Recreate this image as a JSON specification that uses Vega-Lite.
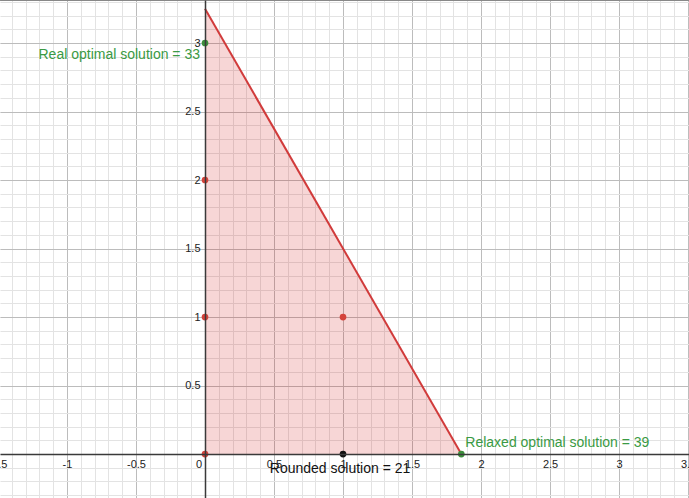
{
  "$schema": "https://vega.github.io/schema/vega-lite/v6.json",
  "width": 689,
  "height": 498,
  "padding": 0,
  "autosize": "none",
  "config": {"view": {"stroke": null}, "font": "Liberation Sans"},
  "datasets": {
    "region": [{"x": 0, "y": 3.25}, {"x": 1.857143, "y": 0}],
    "pts": [
      {"x": 0, "y": 0, "kind": "feasible"},
      {"x": 0, "y": 1, "kind": "feasible"},
      {"x": 0, "y": 2, "kind": "feasible"},
      {"x": 1, "y": 1, "kind": "feasible"},
      {"x": 0, "y": 3, "kind": "optimal"},
      {"x": 1.857143, "y": 0, "kind": "optimal"},
      {"x": 1, "y": 0, "kind": "rounded"}
    ],
    "notes": [
      {"x": 0, "y": 3, "id": "real", "label": "Real optimal solution = 33"},
      {"x": 1.857143, "y": 0, "id": "relaxed", "label": "Relaxed optimal solution = 39"},
      {"x": 1, "y": 0, "id": "rounded", "label": "Rounded solution = 21"},
      {"x": 0, "y": 0, "id": "origin", "label": "0"},
      {"x": -1.5, "y": 0, "id": "edge", "label": "-1.5"}
    ]
  },
  "layer": [
    {
      "data": {"name": "region"},
      "mark": {"type": "area", "color": "#cc0000", "opacity": 0.16},
      "encoding": {
        "x": {"field": "x", "type": "quantitative",
          "scale": {"domain": [-1.4855, 3.507], "nice": false, "zero": false},
          "axis": {"orient": "bottom", "title": null, "labels": false, "ticks": false, "domain": false, "grid": true, "gridColor": "#e3e3e3", "gridWidth": 1,
            "values": [-1.4,-1.3,-1.2,-1.1,-1.0,-0.9,-0.8,-0.7,-0.6,-0.5,-0.4,-0.3,-0.2,-0.1,0,0.1,0.2,0.3,0.4,0.5,0.6,0.7,0.8,0.9,1.0,1.1,1.2,1.3,1.4,1.5,1.6,1.7,1.8,1.9,2.0,2.1,2.2,2.3,2.4,2.5,2.6,2.7,2.8,2.9,3.0,3.1,3.2,3.3,3.4,3.5]}},
        "y": {"field": "y", "type": "quantitative",
          "scale": {"domain": [-0.321, 3.314], "nice": false, "zero": false},
          "axis": {"orient": "left", "title": null, "labels": false, "ticks": false, "domain": false, "grid": true, "gridColor": "#e3e3e3", "gridWidth": 1,
            "values": [-0.3,-0.2,-0.1,0,0.1,0.2,0.3,0.4,0.5,0.6,0.7,0.8,0.9,1.0,1.1,1.2,1.3,1.4,1.5,1.6,1.7,1.8,1.9,2.0,2.1,2.2,2.3,2.4,2.5,2.6,2.7,2.8,2.9,3.0,3.1,3.2,3.3]}},
        "y2": {"datum": 0}
      }
    },
    {
      "data": {"name": "region"},
      "mark": {"type": "line", "color": "#d13b3b", "strokeWidth": 2},
      "encoding": {
        "x": {"field": "x", "type": "quantitative",
          "scale": {"domain": [-1.4855, 3.507], "nice": false, "zero": false},
          "axis": {"orient": "bottom", "title": null, "labels": false, "ticks": false, "domain": false, "grid": true, "gridColor": "#bcbcbc", "gridWidth": 1,
            "values": [-1.5,-1,-0.5,0.5,1,1.5,2,2.5,3,3.5]}},
        "y": {"field": "y", "type": "quantitative",
          "scale": {"domain": [-0.321, 3.314], "nice": false, "zero": false},
          "axis": {"orient": "left", "title": null, "labels": false, "ticks": false, "domain": false, "grid": true, "gridColor": "#bcbcbc", "gridWidth": 1,
            "values": [0.5,1,1.5,2,2.5,3]}}
      }
    },
    {
      "data": {"name": "pts"},
      "mark": {"type": "point", "filled": true, "opacity": 1, "size": 45, "shape": "circle"},
      "encoding": {
        "x": {"field": "x", "type": "quantitative",
          "scale": {"domain": [-1.4855, 3.507], "nice": false, "zero": false},
          "axis": {"orient": "bottom", "offset": -44, "title": null, "ticks": false, "grid": false, "zindex": 1,
            "domain": true, "domainColor": "#3a3a3a", "domainWidth": 1.5,
            "labelFontSize": 11, "labelColor": "#222222", "labelPadding": 4, "labelBaseline": "top", "labelFlush": false, "labelOverlap": false,
            "labelExpr": "'' + datum.value",
            "values": [-1,-0.5,0.5,1,1.5,2,2.5,3,3.5]}},
        "y": {"field": "y", "type": "quantitative",
          "scale": {"domain": [-0.321, 3.314], "nice": false, "zero": false},
          "axis": {"orient": "left", "offset": -205, "title": null, "ticks": false, "grid": false, "zindex": 1,
            "domain": true, "domainColor": "#3a3a3a", "domainWidth": 1.5,
            "labelFontSize": 11, "labelColor": "#222222", "labelPadding": 5, "labelFlush": false, "labelOverlap": false,
            "labelExpr": "'' + datum.value",
            "values": [0.5,1,1.5,2,2.5,3]}},
        "color": {"field": "kind", "type": "nominal", "legend": null,
          "scale": {"domain": ["feasible", "optimal", "rounded"], "range": ["#d4433b", "#3d8f3d", "#111111"]}}
      }
    },
    {
      "data": {"name": "notes"},
      "transform": [{"filter": "datum.id === 'real'"}],
      "mark": {"type": "text", "align": "right", "baseline": "alphabetic", "dx": -5, "dy": 16, "fontSize": 14, "color": "#3a9a44"},
      "encoding": {
        "x": {"field": "x", "type": "quantitative"},
        "y": {"field": "y", "type": "quantitative"},
        "text": {"field": "label"}
      }
    },
    {
      "data": {"name": "notes"},
      "transform": [{"filter": "datum.id === 'relaxed'"}],
      "mark": {"type": "text", "align": "left", "baseline": "alphabetic", "dx": 4, "dy": -7, "fontSize": 14, "color": "#3a9a44"},
      "encoding": {
        "x": {"field": "x", "type": "quantitative"},
        "y": {"field": "y", "type": "quantitative"},
        "text": {"field": "label"}
      }
    },
    {
      "data": {"name": "notes"},
      "transform": [{"filter": "datum.id === 'rounded'"}],
      "mark": {"type": "text", "align": "center", "baseline": "alphabetic", "dx": -3, "dy": 19, "fontSize": 14, "color": "#111111"},
      "encoding": {
        "x": {"field": "x", "type": "quantitative"},
        "y": {"field": "y", "type": "quantitative"},
        "text": {"field": "label"}
      }
    },
    {
      "data": {"name": "notes"},
      "transform": [{"filter": "datum.id === 'origin'"}],
      "mark": {"type": "text", "align": "right", "baseline": "top", "dx": -3, "dy": 5, "fontSize": 11, "color": "#222222"},
      "encoding": {
        "x": {"field": "x", "type": "quantitative"},
        "y": {"field": "y", "type": "quantitative"},
        "text": {"field": "label"}
      }
    },
    {
      "data": {"name": "notes"},
      "transform": [{"filter": "datum.id === 'edge'"}],
      "mark": {"type": "text", "align": "center", "baseline": "top", "dy": 5, "fontSize": 11, "color": "#222222"},
      "encoding": {
        "x": {"field": "x", "type": "quantitative"},
        "y": {"field": "y", "type": "quantitative"},
        "text": {"field": "label"}
      }
    }
  ],
  "resolve": {"axis": {"x": "independent", "y": "independent"}}
}
